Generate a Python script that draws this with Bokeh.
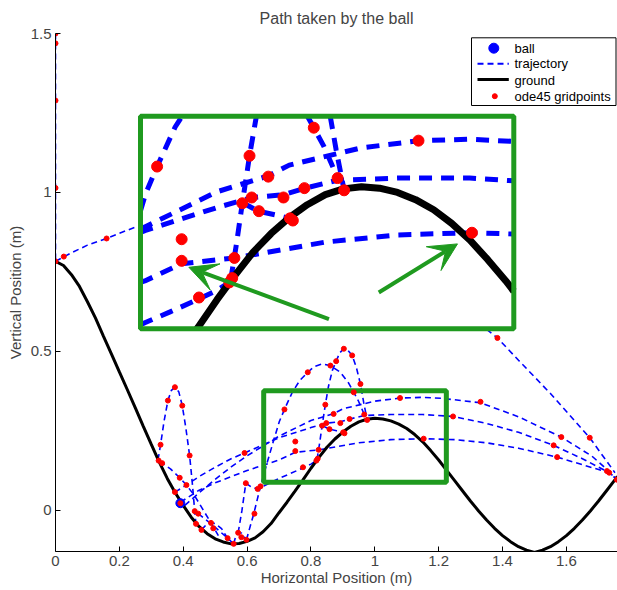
import numpy as np
from bokeh.plotting import figure
from bokeh.models import Range1d, FixedTicker, Arrow, VeeHead
from bokeh.embed import file_html
from bokeh.resources import INLINE
from bokeh.core.properties import value

# ---------------- data ----------------
ground_x = [0, .025, .05, .075, .1, .125, .15, .175, .2, .225, .25, .275, .3, .325, .35, .375, .4, .425, .45, .475,
            .5, .525, .55, .575, .6, .625, .65, .675, .7, .725, .75, .775, .8, .825, .85, .875, .9, .925, .95, .975,
            1.0, 1.025, 1.05, 1.075, 1.1, 1.125, 1.15, 1.175, 1.2, 1.225, 1.25, 1.275, 1.3, 1.325, 1.35, 1.375,
            1.4, 1.425, 1.45, 1.475, 1.5, 1.525, 1.55, 1.575, 1.6, 1.625, 1.65, 1.675, 1.7, 1.725, 1.75, 1.76]
ground_y = [.783, .770, .741, .704, .656, .605, .548, .492, .435, .379, .322, .264, .207, .151, .10, .055, .015, -.022, -.052, -.074,
            -.09, -.1, -.106, -.105, -.098, -.087, -.068, -.042, -.008, .025, .06, .0955, .132, .166, .198, .224, .246, .264, .278, .286,
            .289, .287, .281, .271, .257, .238, .215, .1875, .158, .1255, .093, .0605, .028, -.0023, -.031, -.057,
            -.08, -.099, -.115, -.126, -.133, -.126, -.115, -.099, -.08, -.057, -.031, -.0023, .028, .0605, .093, .106]

drop_x = [0, 0]
drop_y = [1.5, 0.783]

big_x = [0, .05, .1, .16, .25, .35, .45, .55, .65, .75, .85, .95, 1.05, 1.15, 1.25, 1.384, 1.45, 1.55, 1.673, 1.752]
big_y = [.783, .81, .834, .855, .891, .915, .929, .932, .924, .905, .876, .835, .784, .722, .65, .542, .472, .367, .228, .118]

a_x = [.405, .45, .5, .55, .6, .7, .8, .871, .9, 1.0, 1.08, 1.15, 1.21, 1.331, 1.45, 1.584, 1.68, 1.727, 1.758]
a_y = [.015, .055, .097, .136, .171, .233, .282, .304, .319, .343, .353, .355, .352, .338, .294, .23, .17, .128, .098]

b_x = [.374, .41, .45, .5, .55, .592, .7, .8, .849, .892, .922, .967, 1.05, 1.15, 1.245, 1.35, 1.45, 1.56, 1.65, 1.734, 1.758]
b_y = [.057, .079, .106, .135, .162, .18, .228, .26, .274, .278, .287, .298, .301, .301, .295, .273, .245, .204, .162, .118, .098]

c_x = [.391, .45, .5, .6, .7, .751, .825, .95, 1.05, 1.153, 1.25, 1.35, 1.45, 1.571, 1.65, 1.727, 1.758]
c_y = [.025, .063, .086, .125, .158, .182, .19, .212, .222, .225, .222, .212, .195, .167, .143, .12, .098]

p_x = [.598, .61, .621, .642, .66, .683, .701, .717, .742, .765, .79, .81, .835, .861, .892, .918, .934, .948, .958, .967]
p_y = [-.093, -.05, -.011, .075, .14, .219, .279, .317, .372, .408, .434, .452, .46, .455, .434, .40, .371, .345, .322, .301]

q_x = [.819, .827, .835, .845, .855, .867, .879, .89, .903, .916, .929, .942, .955, .965, .976]
q_y = [.16, .21, .266, .332, .39, .44, .469, .495, .508, .503, .487, .45, .397, .34, .284]

t_x = [.321, .329, .34, .352, .363, .374, .386, .397, .408, .42, .428, .436, .44]
t_y = [.158, .206, .28, .345, .377, .387, .373, .329, .26, .172, .09, -.003, -.043]

e_x = [.326, .36, .389, .41, .436, .46, .487, .51]
e_y = [.153, .13, .102, .079, .045, .005, -.04, -.08]

d_x = [.447, .49, .539, .558]
d_y = [-.011, -.045, -.088, -.106]

f_x = [.457, .47, .487, .5, .52, .539]
f_y = [-.062, -.048, -.04, -.042, -.058, -.088]

g_x = [.558, .565, .572, .582, .59, .598]
g_y = [-.106, -.08, -.071, -.072, -.082, -.093]

r_x = [.572, .584, .596]
r_y = [-.071, 0.0, .085]

i_x = [.596, .615, .633, .66, .7, .735, .775, .8, .817]
i_y = [.085, .072, .067, .08, .1, .115, .133, .145, .156]

h_x = [.835, .857, .88, .901]
h_y = [.267, .255, .25, .245]

dots_x = [0, 0, 0, 0, 0, .026, .16, 1.384, 1.673, 1.758,
          1.331, 1.584, 1.245, 1.56, 1.571, 1.727, 1.734,
          1.079, 1.153, .967, .976, .921, .901, .905, .892, .858, .835, .848, .871, .845, .934, .955,
          .929, .903, .879, .861, .79, .824, .821, .817, .775, .751, .751, .717,
          .329, .352, .374, .397, .42, .323, .334, .389, .41, .374, .391, .436, .447, .44, .457,
          .487, .494, .539, .558, .572, .582, .598, .623, .596, .592, .633, .642]
dots_y = [1.5, 1.469, 1.289, 1.014, .783, .798, .855, .542, .228, .096,
          .341, .23, .295, .204, .167, .123, .118,
          .353, .225, .301, .284, .287, .245, .242, .274, .255, .266, .274, .303, .332, .371, .397,
          .487, .508, .469, .455, .434, .19, .162, .156, .135, .216, .186, .317,
          .206, .345, .387, .329, .172, .156, .148, .102, .079, .057, .022, -.003, -.011, -.043, -.062,
          -.04, -.057, -.088, -.106, -.071, -.085, -.093, -.011, .085, .18, .067, .075]

ball_x = [0.391]
ball_y = [0.022]

x_ticks = [0, 0.2, 0.4, 0.6, 0.8, 1.0, 1.2, 1.4, 1.6]
x_tick_labels = ["0", "0.2", "0.4", "0.6", "0.8", "1", "1.2", "1.4", "1.6"]
y_ticks = [0, 0.5, 1.0, 1.5]
y_tick_labels = ["0", "0.5", "1", "1.5"]

legend_labels = ["ball", "trajectory", "ground", "ode45 gridpoints"]
title_text = "Path taken by the ball"

# ---------------- layout / style ----------------
FONT = "Liberation Sans"
BLUE = "#0000ff"
RED = "#ff0000"
GREEN = "#1f9a1f"

W, H = 617, 590
FL, FR, FT, FB = 55, 617, 33, 551          # frame edges in px
XR = (0.0, 1.76)
YR = (-0.13, 1.5)

ZOOM_RECT = (0.652, 1.224, 0.088, 0.376)    # small green box (data)
INSET_X = (0.694, 1.211)                    # inset axes limits
INSET_Y = (0.0915, 0.387)
INSET_PX = (140, 513.3, 115.7, 328.3)       # inset box: left, right, top, bottom (px)

p = figure(width=W, height=H, x_range=Range1d(*XR), y_range=Range1d(*YR),
           output_backend="svg", toolbar_location=None,
           min_border_left=FL, min_border_right=W - FR, min_border_top=FT, min_border_bottom=H - FB,
           title=title_text)
p.title.align = "center"
p.title.vertical_align = "top"
p.title.text_font = FONT
p.title.text_font_size = "16px"
p.title.text_font_style = "normal"
p.outline_line_color = None
p.grid.visible = False
p.background_fill_color = "white"
p.border_fill_color = "white"

for ax in (p.xaxis[0], p.yaxis[0]):
    ax.axis_line_color = "black"
    ax.major_tick_line_color = "black"
    ax.major_tick_in = 5
    ax.major_tick_out = 0
    ax.minor_tick_line_color = None
    ax.major_label_text_font = FONT
    ax.major_label_text_font_size = "15px"
    ax.axis_label_text_font = FONT
    ax.axis_label_text_font_size = "15px"
    ax.axis_label_text_font_style = "normal"
p.xaxis.ticker = FixedTicker(ticks=x_ticks)
p.xaxis.major_label_overrides = dict(zip(x_ticks, x_tick_labels))
p.yaxis.ticker = FixedTicker(ticks=y_ticks)
p.yaxis.major_label_overrides = dict(zip(y_ticks, y_tick_labels))
p.xaxis.axis_label = "Horizontal Position (m)"
p.yaxis.axis_label = "Vertical Position (m)"
p.xaxis.major_label_standoff = 4
p.xaxis.axis_label_standoff = 0
p.yaxis.major_label_standoff = 4
p.yaxis.axis_label_standoff = 4

# extra ranges: inset data coords and screen px coords
sxu = (INSET_X[1] - INSET_X[0]) / (INSET_PX[1] - INSET_PX[0])
syu = (INSET_Y[1] - INSET_Y[0]) / (INSET_PX[3] - INSET_PX[2])
p.extra_x_ranges = {
    "ix": Range1d(INSET_X[0] - (INSET_PX[0] - FL) * sxu, INSET_X[1] + (FR - INSET_PX[1]) * sxu),
    "sx": Range1d(FL, FR),
}
p.extra_y_ranges = {
    "iy": Range1d(INSET_Y[0] - (FB - INSET_PX[3]) * syu, INSET_Y[1] + (INSET_PX[2] - FT) * syu),
    "sy": Range1d(FB, FT),
}

arcs = [(drop_x, drop_y), (big_x, big_y), (a_x, a_y), (b_x, b_y), (c_x, c_y), (p_x, p_y),
        (q_x, q_y), (t_x, t_y), (e_x, e_y), (d_x, d_y), (f_x, f_y), (g_x, g_y), (r_x, r_y),
        (i_x, i_y), (h_x, h_y)]

# ---------------- main axes ----------------
p.multi_line(xs=[list(a[0]) for a in arcs], ys=[list(a[1]) for a in arcs],
             line_color=BLUE, line_width=1.6, line_dash="6 4")
p.line(ground_x, ground_y, line_color="black", line_width=3)
p.quad(left=[ZOOM_RECT[0]], right=[ZOOM_RECT[1]], bottom=[ZOOM_RECT[2]], top=[ZOOM_RECT[3]],
       fill_color=None, line_color=GREEN, line_width=5)
p.scatter(ball_x, ball_y, size=9, color=BLUE)
p.scatter(dots_x, dots_y, size=5, color=RED)


# ---------------- inset ----------------
def clip_pieces(xs, ys, x0, x1, y0, y1):
    pieces, cx, cy = [], [], []
    for k in range(len(xs) - 1):
        ax_, ay_, bx_, by_ = xs[k], ys[k], xs[k + 1], ys[k + 1]
        dx, dy = bx_ - ax_, by_ - ay_
        t0, t1, keep = 0.0, 1.0, True
        for pk, qk in ((-dx, ax_ - x0), (dx, x1 - ax_), (-dy, ay_ - y0), (dy, y1 - ay_)):
            if pk == 0:
                if qk < 0:
                    keep = False
                    break
            else:
                r = qk / pk
                if pk < 0:
                    t0 = max(t0, r)
                else:
                    t1 = min(t1, r)
        if keep and t0 <= t1:
            if not cx or t0 > 0:
                if cx:
                    pieces.append((cx, cy))
                cx, cy = [ax_ + t0 * dx], [ay_ + t0 * dy]
            cx.append(ax_ + t1 * dx)
            cy.append(ay_ + t1 * dy)
            if t1 < 1:
                pieces.append((cx, cy))
                cx, cy = [], []
        else:
            if cx:
                pieces.append((cx, cy))
            cx, cy = [], []
    if cx:
        pieces.append((cx, cy))
    return pieces


IX0, IX1 = INSET_X
IY0, IY1 = INSET_Y
p.quad(left=[IX0], right=[IX1], bottom=[IY0], top=[IY1], x_range_name="ix", y_range_name="iy",
       fill_color="white", line_color=None)
ipieces = []
for ax_list, ay_list in arcs:
    ipieces += clip_pieces(ax_list, ay_list, IX0, IX1, IY0, IY1)
p.multi_line(xs=[pc[0] for pc in ipieces], ys=[pc[1] for pc in ipieces],
             x_range_name="ix", y_range_name="iy", line_color=BLUE, line_width=5, line_dash="13 9")
gpieces = clip_pieces(ground_x, ground_y, IX0, IX1, IY0, IY1)
p.multi_line(xs=[pc[0] for pc in gpieces], ys=[pc[1] for pc in gpieces],
             x_range_name="ix", y_range_name="iy", line_color="black", line_width=7,
             line_join="round")
dx_arr, dy_arr = np.array(dots_x), np.array(dots_y)
m = (dx_arr > IX0) & (dx_arr < IX1) & (dy_arr > IY0) & (dy_arr < IY1)
p.scatter(dx_arr[m], dy_arr[m], size=11, color=RED, x_range_name="ix", y_range_name="iy")
p.quad(left=[IX0], right=[IX1], bottom=[IY0], top=[IY1], x_range_name="ix", y_range_name="iy",
       fill_color=None, line_color=GREEN, line_width=5)

for (xs0, ys0, xe, ye) in [(0.955, 0.105, 0.761, 0.177), (1.024, 0.142, 1.133, 0.2095)]:
    p.add_layout(Arrow(end=VeeHead(size=28, fill_color=GREEN, line_color=GREEN, line_width=1),
                       x_start=xs0, y_start=ys0, x_end=xe, y_end=ye,
                       x_range_name="ix", y_range_name="iy",
                       line_color=GREEN, line_width=4))

# ---------------- legend (screen px coords) ----------------
p.quad(left=[471], right=[615.5], top=[37.3], bottom=[105], x_range_name="sx", y_range_name="sy",
       fill_color="white", line_color="black", line_width=1)
p.scatter([493.3], [47.7], size=10, color=BLUE, x_range_name="sx", y_range_name="sy")
p.line([477, 508.3], [63.3, 63.3], line_color=BLUE, line_width=2, line_dash="6 4",
       x_range_name="sx", y_range_name="sy")
p.line([477, 508.3], [79, 79], line_color="black", line_width=3, x_range_name="sx", y_range_name="sy")
p.scatter([494.3], [95.7], size=5, color=RED, x_range_name="sx", y_range_name="sy")
p.text(x=[514] * 4, y=[47.7, 63.3, 79.5, 95.7], text=legend_labels, text_font=value(FONT),
       text_font_size="13px", text_baseline="middle", text_color="black",
       x_range_name="sx", y_range_name="sy")

open("out.html", "w").write(file_html(p, INLINE))
